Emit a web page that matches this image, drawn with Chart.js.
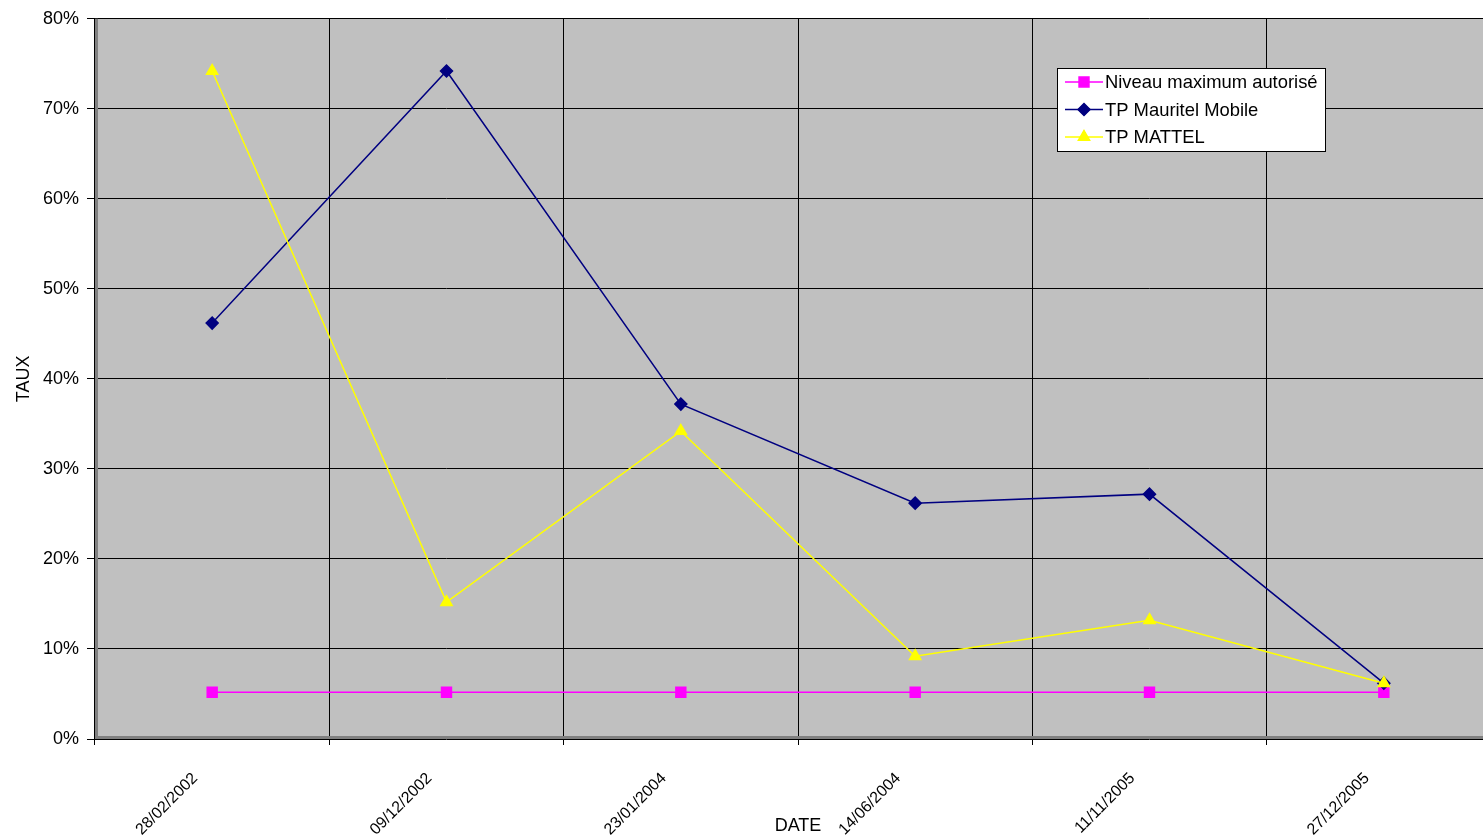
<!DOCTYPE html>
<html>
<head>
<meta charset="utf-8">
<script src="https://cdn.jsdelivr.net/npm/chart.js@4/dist/chart.umd.min.js"></script>
<style>
html,body{margin:0;padding:0;background:#fff;overflow:hidden;}
#wrap{width:1520px;height:839px;}
</style>
</head>
<body>
<div id="wrap"><canvas id="chart"></canvas></div>
<script>
const dates = ["28/02/2002","09/12/2002","23/01/2004","14/06/2004","11/11/2005","27/12/2005"];
const seriesNames = ["Niveau maximum autorisé","TP Mauritel Mobile","TP MATTEL"];
const niveauMax = [5.2,5.2,5.2,5.2,5.2,5.2];
const mauritel = [46.2,74.2,37.2,26.2,27.2,6.2];
const mattel = [74.2,15.2,34.2,9.2,13.2,6.2];
const yTicks = [0,10,20,30,40,50,60,70,80];

const FONT = "Arial, 'Liberation Sans', sans-serif";

// grey plot area + 3d-ish edge like the old excel chart
const frame = {
    id:"frame",
    beforeDraw(chart){
        const {ctx, chartArea:a} = chart;
        ctx.save();
        ctx.fillStyle = "#c0c0c0";
        ctx.fillRect(a.left, a.top, a.right - a.left, a.bottom - a.top);
        ctx.restore();
    },
    beforeDatasetsDraw(chart){
        const {ctx, chartArea:a} = chart;
        ctx.save();
        ctx.strokeStyle = "#808080";
        ctx.lineWidth = 3;
        ctx.beginPath();
        ctx.moveTo(a.left + 1.5, a.top);
        ctx.lineTo(a.left + 1.5, a.bottom - 1.5);
        ctx.lineTo(a.right, a.bottom - 1.5);
        ctx.stroke();
        ctx.strokeStyle = "#000";
        ctx.lineWidth = 1;
        ctx.beginPath();
        ctx.moveTo(a.left - 0.5, a.top);
        ctx.lineTo(a.left - 0.5, a.bottom + 6);
        ctx.stroke();
        ctx.restore();
    }
};

// legend box drawn inside the plot, top right
const legendBox = {
    id:"legendBox",
    afterDraw(chart){
        const ctx = chart.ctx;
        const x = 1057, y = 68, w = 268, h = 83;
        ctx.save();
        ctx.fillStyle = "#fff";
        ctx.fillRect(x, y, w, h);
        ctx.strokeStyle = "#000";
        ctx.lineWidth = 1;
        ctx.strokeRect(x + 0.5, y + 0.5, w, h);
        ctx.font = "18.4px " + FONT;
        ctx.textBaseline = "middle";
        chart.data.datasets.forEach((ds, i) => {
            const ly = 82 + i * 27.5;
            ctx.strokeStyle = ds.borderColor;
            ctx.lineWidth = 1.5;
            ctx.beginPath();
            ctx.moveTo(x + 8, ly);
            ctx.lineTo(x + 46, ly);
            ctx.stroke();
            Chart.helpers.drawPoint(ctx, {
                pointStyle: ds.pointStyle,
                radius: ds.pointRadius,
                borderWidth: 1
            }, x + 27, ly);
            ctx.fillStyle = ds.borderColor;
            ctx.strokeStyle = ds.borderColor;
            ctx.fill();
            ctx.fillStyle = "#000";
            ctx.fillText(ds.label, x + 48, ly + 1);
        });
        ctx.restore();
    }
};

window.onload = () => {

    const ctx = document.getElementById("chart");

    new Chart(ctx,{
        type:"line",

        data:{
            labels:dates,

            datasets:[{
                label:seriesNames[0],
                data:niveauMax,
                borderColor:"#ff00ff",
                backgroundColor:"#ff00ff",
                pointStyle:"rect",
                pointRadius:7,
                borderWidth:1.5,
                order:3
            },{
                label:seriesNames[1],
                data:mauritel,
                borderColor:"#000080",
                backgroundColor:"#000080",
                pointStyle:"rectRot",
                pointRadius:6,
                borderWidth:1.5,
                order:2
            },{
                label:seriesNames[2],
                data:mattel,
                borderColor:"#ffff00",
                backgroundColor:"#ffff00",
                pointStyle:"triangle",
                pointRadius:6.5,
                borderWidth:1.5,
                order:1
            }]
        },

        options:{
            responsive:true,
            maintainAspectRatio:false,
            animation:false,

            layout:{
                padding:{top:18, right:19, left:0, bottom:0}
            },

            elements:{
                line:{tension:0},
                point:{borderWidth:1, hoverRadius:7}
            },

            plugins:{
                legend:{display:false},
                tooltip:{enabled:false}
            },

            scales:{
                x:{
                    offset:true,
                    grid:{
                        offset:true,
                        color:"#000",
                        lineWidth:1,
                        tickLength:6,
                        tickColor:"#000"
                    },
                    border:{display:false},
                    ticks:{
                        color:"#000",
                        font:{family:FONT, size:16},
                        minRotation:45,
                        maxRotation:45,
                        autoSkip:false,
                        labelOffset:-17,
                        padding:24
                    },
                    title:{
                        display:true,
                        text:"DATE",
                        color:"#000",
                        font:{family:FONT, size:18},
                        padding:{top:0, bottom:2}
                    },
                    afterFit(scale){ scale.height = 100; }
                },

                y:{
                    min:0,
                    max:80,
                    grid:{
                        color:"#000",
                        lineWidth:1,
                        tickLength:8,
                        tickColor:"#000"
                    },
                    border:{display:false},
                    afterBuildTicks(scale){
                        scale.ticks = yTicks.map(v => ({value:v}));
                    },
                    ticks:{
                        color:"#000",
                        font:{family:FONT, size:18},
                        padding:8,
                        callback:v => v + "%"
                    },
                    title:{
                        display:true,
                        text:"TAUX",
                        color:"#000",
                        font:{family:FONT, size:18},
                        padding:{top:13, bottom:0}
                    },
                    afterFit(scale){ scale.width = 95; }
                }
            }
        },

        plugins:[frame, legendBox]
    });
};
</script>
</body>
</html>
